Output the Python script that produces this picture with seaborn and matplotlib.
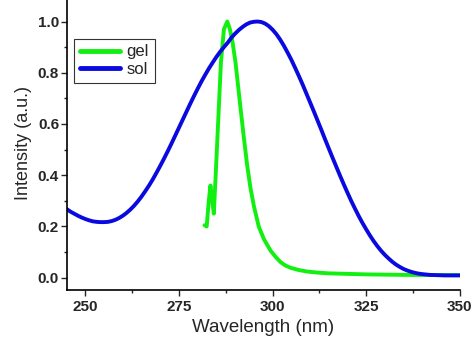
import numpy as np
import pandas as pd
import seaborn as sns
import matplotlib.pyplot as plt
from matplotlib.ticker import MultipleLocator

sol_x = [245, 246, 247, 248, 249, 250, 251, 252, 253, 254, 255, 256, 257, 258, 259, 260, 261, 262, 263, 264,
         265, 266, 267, 268, 269, 270, 271, 272, 273, 274, 275, 276, 277, 278, 279, 280, 281, 282, 283, 284,
         285, 286, 287, 288, 289, 290, 291, 292, 293, 294, 295, 296, 297, 298, 299, 300, 301, 302, 303, 304,
         305, 306, 307, 308, 309, 310, 311, 312, 313, 314, 315, 316, 317, 318, 319, 320, 321, 322, 323, 324,
         325, 326, 327, 328, 329, 330, 331, 332, 333, 334, 335, 336, 337, 338, 339, 340, 342, 344, 346, 348, 350]
sol_y = [0.268, 0.258, 0.250, 0.242, 0.235, 0.229, 0.224, 0.220, 0.218, 0.217, 0.217, 0.218, 0.221, 0.226,
         0.233, 0.242, 0.253, 0.266, 0.281, 0.298, 0.317, 0.338, 0.36, 0.384, 0.41, 0.437, 0.465, 0.494,
         0.524, 0.555, 0.586, 0.617, 0.648, 0.679, 0.709, 0.738, 0.766, 0.792, 0.817, 0.84, 0.862, 0.882,
         0.90, 0.917, 0.937, 0.953, 0.967, 0.979, 0.989, 0.996, 0.999, 1.0, 0.998, 0.992, 0.982, 0.968,
         0.951, 0.93, 0.906, 0.879, 0.851, 0.82, 0.788, 0.755, 0.72, 0.685, 0.65, 0.614, 0.578, 0.541,
         0.505, 0.469, 0.434, 0.399, 0.365, 0.332, 0.3, 0.27, 0.241, 0.214, 0.189, 0.165, 0.143, 0.123,
         0.105, 0.089, 0.075, 0.062, 0.051, 0.042, 0.034, 0.028, 0.023, 0.019, 0.016, 0.014, 0.011, 0.01,
         0.009, 0.009, 0.009]

gel_x = [281.8, 282.4, 282.9, 283.4, 283.9, 284.3, 284.8, 285.5, 286.2, 287.0, 287.9, 288.6, 289.3, 290.1,
         291.4, 292.3, 293.2, 294.1, 295.0, 296.3, 297.7, 299.5, 301, 302.2, 303.5, 305, 307, 309.3, 312,
         315, 320, 325, 335, 350]
gel_y = [0.205, 0.2, 0.29, 0.36, 0.3, 0.25, 0.4, 0.62, 0.84, 0.97, 1.0, 0.97, 0.92, 0.84,
         0.667, 0.55, 0.44, 0.35, 0.28, 0.2, 0.15, 0.105, 0.078, 0.06, 0.047, 0.038, 0.03, 0.024, 0.02,
         0.017, 0.015, 0.013, 0.011, 0.01]

df = pd.concat([
    pd.DataFrame({"Wavelength": gel_x, "Intensity": gel_y, "sample": "gel"}),
    pd.DataFrame({"Wavelength": sol_x, "Intensity": sol_y, "sample": "sol"}),
])

sns.set_style("ticks")
plt.rcParams['font.family'] = ['Liberation Sans', 'DejaVu Sans']

fig = plt.figure(figsize=(4.73, 3.42), dpi=100)
ax = fig.add_axes([0.141, 0.152, 0.831, 0.86])
sns.lineplot(data=df, x="Wavelength", y="Intensity", hue="sample", sort=False,
             palette={"gel": "#11F011", "sol": "#0A0AE0"}, linewidth=2.8, ax=ax, estimator=None)

ax.set_xlim(245, 350)
ax.set_ylim(-0.048, 1.1)
ax.xaxis.set_major_locator(MultipleLocator(25))
ax.xaxis.set_minor_locator(MultipleLocator(12.5))
ax.yaxis.set_minor_locator(MultipleLocator(0.1))
ax.set_yticks([0.0, 0.2, 0.4, 0.6, 0.8, 1.0])
ax.set_yticklabels(["0.0", "0.2", "0.4", "0.6", "0.8", "1.0"])
ax.tick_params(axis='both', which='major', direction='out', length=4, width=1, labelsize=11)
ax.tick_params(axis='y', which='major', pad=1.5)
ax.tick_params(axis='x', which='major', pad=3)
ax.tick_params(axis='both', which='minor', direction='out', length=2.5, width=1)
for lab in ax.get_xticklabels() + ax.get_yticklabels():
    lab.set_fontweight('bold')
for s in ['top', 'right']:
    ax.spines[s].set_visible(False)
for s in ['left', 'bottom']:
    ax.spines[s].set_linewidth(1.2)
    ax.spines[s].set_color('black')

ax.set_xlabel("Wavelength (nm)", fontsize=13.5, labelpad=4)
ax.set_ylabel("Intensity (a.u.)", fontsize=13, labelpad=4)

leg = ax.legend(loc='upper left', bbox_to_anchor=(0.019, 0.855), frameon=True, fancybox=False,
                fontsize=12, handlelength=2.4, borderpad=0.35, labelspacing=0.15, handletextpad=0.4,
                borderaxespad=0)
leg.get_frame().set_edgecolor('black')
leg.get_frame().set_linewidth(0.8)
for line in leg.get_lines():
    line.set_linewidth(3.5)

fig.savefig("out.png", dpi=100)
